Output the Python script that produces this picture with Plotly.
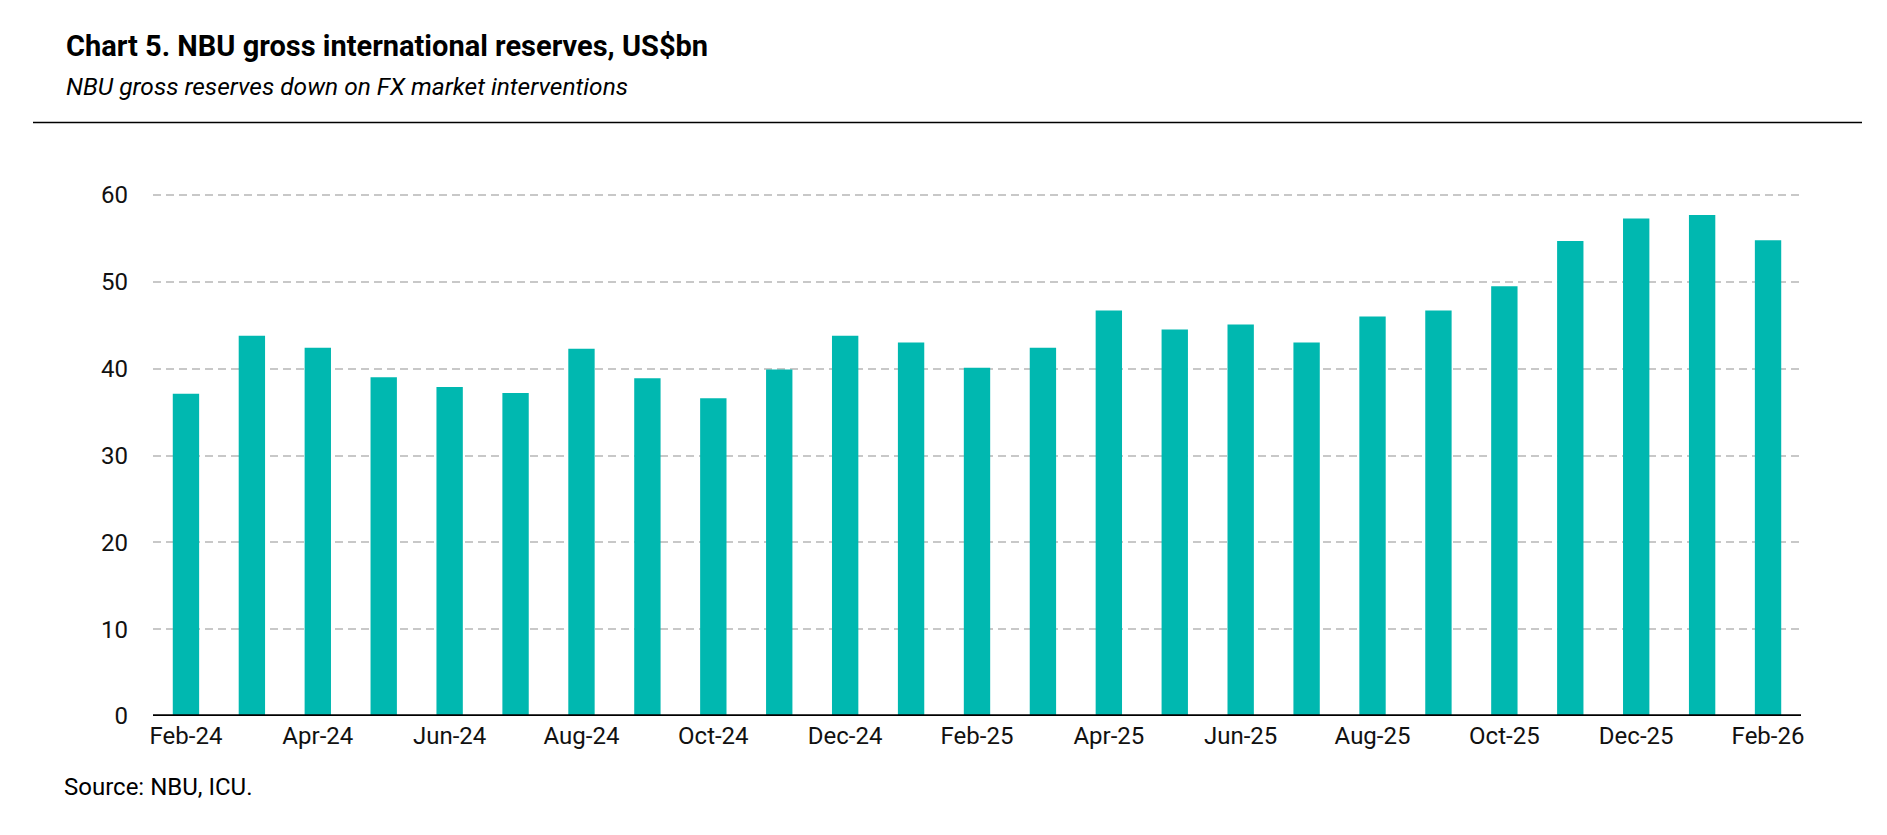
import plotly.graph_objects as go

months = ["Feb-24", "Mar-24", "Apr-24", "May-24", "Jun-24", "Jul-24", "Aug-24", "Sep-24",
          "Oct-24", "Nov-24", "Dec-24", "Jan-25", "Feb-25", "Mar-25", "Apr-25", "May-25",
          "Jun-25", "Jul-25", "Aug-25", "Sep-25", "Oct-25", "Nov-25", "Dec-25", "Jan-26", "Feb-26"]
reserves = [37.1, 43.8, 42.4, 39.0, 37.9, 37.2, 42.3, 38.9,
            36.6, 39.9, 43.8, 43.0, 40.1, 42.4, 46.7, 44.5,
            45.1, 43.0, 46.0, 46.7, 49.5, 54.7, 57.3, 57.7, 54.8]
tick_labels = ["Feb-24", "Apr-24", "Jun-24", "Aug-24", "Oct-24", "Dec-24", "Feb-25",
               "Apr-25", "Jun-25", "Aug-25", "Oct-25", "Dec-25", "Feb-26"]
y_ticks = [0, 10, 20, 30, 40, 50, 60]

title = "Chart 5. NBU gross international reserves, US$bn"
subtitle = "NBU gross reserves down on FX market interventions"
source = "Source: NBU, ICU."

W, H = 1887, 835
L, R, T, B = 145, 94, 180, 127
PW, PH = W - L - R, H - T - B
Y_TOP = 60 * PH / (H - B - 187)

def px(x):
    return (x - L) / PW

def py(y):
    return (H - B - y) / PH

FONT = "Roboto, Liberation Sans, sans-serif"

fig = go.Figure(go.Bar(x=months, y=reserves, marker=dict(color="#00b8b0", line=dict(width=0))))

fig.update_layout(
    width=W, height=H,
    margin=dict(l=L, r=R, t=T, b=B, pad=0),
    paper_bgcolor="white", plot_bgcolor="white",
    bargap=0.6, showlegend=False,
    font=dict(family=FONT, size=24, color="#111111"),
    xaxis=dict(type="category", categoryorder="array", categoryarray=months,
               range=[-0.5, len(months) - 0.5],
               tickmode="array", tickvals=tick_labels, ticktext=tick_labels,
               showgrid=False, showline=False, zeroline=False,
               ticks="", ticklabelstandoff=3,
               tickfont=dict(family=FONT, size=24, color="#111111")),
    yaxis=dict(range=[0, Y_TOP], tickmode="array", tickvals=y_ticks,
               showgrid=True, gridcolor="#c8c8c8", gridwidth=2, griddash="8px,5px",
               zeroline=False, showline=False,
               ticks="", ticklabelstandoff=24,
               tickfont=dict(family=FONT, size=24, color="#111111")),
    shapes=[
        dict(type="line", xref="paper", yref="paper", x0=px(25), x1=px(1854),
             y0=py(114.5), y1=py(114.5), line=dict(color="black", width=1.5)),
        dict(type="line", xref="paper", yref="y", x0=0, x1=1, y0=0, y1=0,
             line=dict(color="black", width=3.5)),
    ],
    annotations=[
        dict(text="<b>" + title + "</b>", xref="paper", yref="paper",
             x=px(56), y=py(38), xanchor="left", yanchor="middle", showarrow=False,
             font=dict(family=FONT, size=29, color="black")),
        dict(text="<i>" + subtitle + "</i>", xref="paper", yref="paper",
             x=px(56), y=py(79), xanchor="left", yanchor="middle", showarrow=False,
             font=dict(family=FONT, size=24.5, color="black")),
        dict(text=source, xref="paper", yref="paper",
             x=px(54), y=py(779), xanchor="left", yanchor="middle", showarrow=False,
             font=dict(family=FONT, size=24, color="black")),
    ],
)

fig.write_html("out.html")
